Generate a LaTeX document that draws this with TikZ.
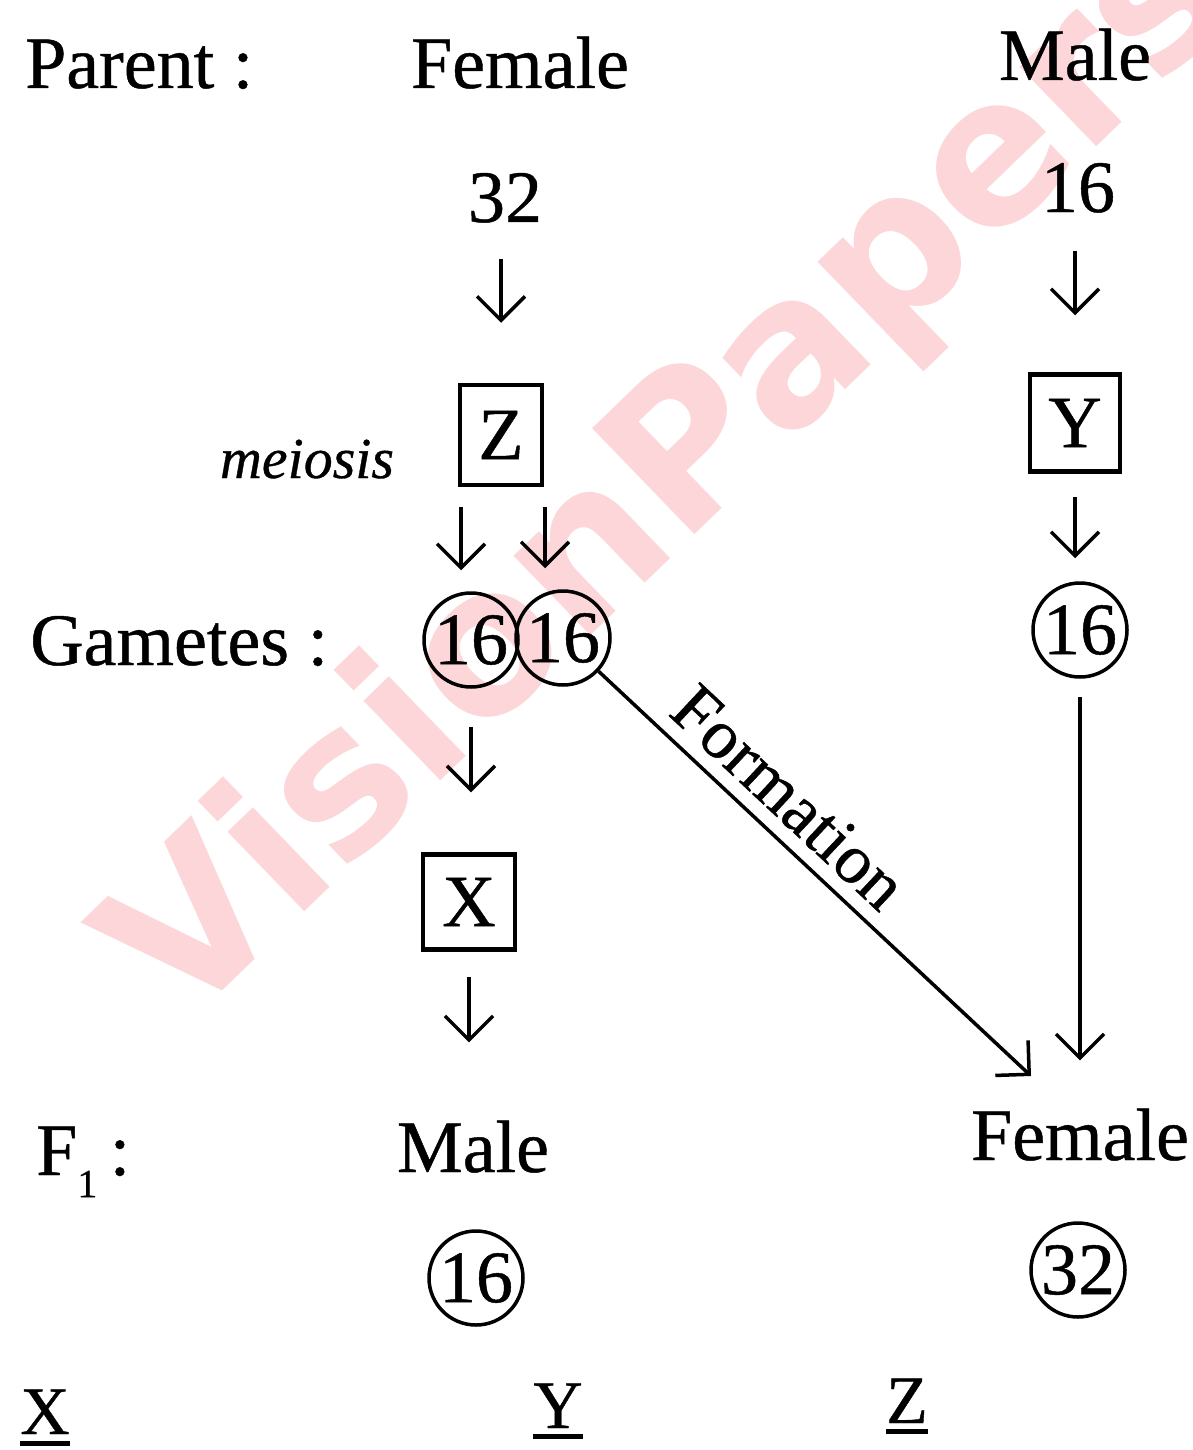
\documentclass[tikz,border=0pt]{standalone}
\usepackage{fontspec}
\setmainfont{Liberation Serif}[FakeBold=0.6]
\newfontfamily\wmfont{DejaVu Sans}
\usetikzlibrary{arrows.meta}
\definecolor{wmpink}{RGB}{252,214,216}
\newcommand\bigtxt{\fontsize{74}{80}\selectfont}
\begin{document}
\begin{tikzpicture}[x=1pt,y=-1pt,
  lbl/.style={inner sep=0pt, font=\bigtxt, anchor=base},
  boxn/.style={draw, line width=4.5pt, inner sep=0pt, font=\bigtxt},
  circn/.style={draw, circle, line width=3.5pt, inner sep=0pt, minimum size=94pt, font=\bigtxt},
  arr/.style={line width=3.5pt, -{Straight Barb[length=24pt,width=48pt]}},
  uline/.style={line width=5pt}
]
\useasboundingbox (0,0) rectangle (1192,1450);
\fill[white] (0,0) rectangle (1192,1450);
% watermark
\node[inner sep=0pt, anchor=base west, rotate=44, text=wmpink,
      font=\wmfont\bfseries\fontsize{202}{202}\selectfont] (wm) at (182,1030) {VisionPapers};

% header row
\node[lbl, anchor=base west] (parent) at (25,88) {Parent :};
\node[lbl] (pfemale) at (520,88) {Female};
\node[lbl] (pmale) at (1075,80) {Male};

% left column
\node[lbl] (n32) at (505,222) {32};
\node[boxn, minimum width=82pt, minimum height=100pt] (zbox) at (501,435) {Z};
\node[lbl, font=\itshape\fontsize{58}{60}\selectfont] (meiosis) at (307,478) {meiosis};
\node[circn] (g1) at (471,640) {16};
\node[circn] (g2) at (563,638) {16};
\node[lbl, anchor=base west] (gam) at (30,665) {Gametes :};
\node[boxn, minimum width=92pt, minimum height=95pt] (xbox) at (469,902) {X};
\node[lbl, anchor=base west] (f1) at (36,1175) {F\raisebox{-0.3em}{\fontsize{40}{40}\selectfont 1}\,:};
\node[lbl] (cmale) at (473,1172) {Male};
\node[circn] (m16) at (476,1278) {16};

% right column
\node[lbl] (n16) at (1078,212) {16};
\node[boxn, minimum width=90pt, minimum height=97pt] (ybox) at (1075,423) {Y};
\node[circn] (y16) at (1080,630) {16};
\node[lbl] (cfemale) at (1080,1160) {Female};
\node[circn] (f32) at (1078,1270) {32};
\coordinate (fend) at (1031,1076);

% arrows, left column
\draw[arr, shorten <=36pt, shorten >=60pt] (n32.south -| zbox.north) -- (zbox.north);
\draw[arr, shorten <=20pt, shorten >=21pt] ([xshift=-10pt]zbox.south -| g1.north) -- ([xshift=-10pt]g1.north);
\draw[arr, shorten <=20pt, shorten >=21pt] ([xshift=-18pt]zbox.south -| g2.north) -- ([xshift=-18pt]g2.north);
\draw[arr, shorten <=38pt, shorten >=60pt] (g1.south) -- (g1.south |- xbox.north);
\draw[arr, shorten <=25pt, shorten >=78pt] (xbox.south) -- (xbox.south |- cmale.north);

% arrows, right column
\draw[arr, shorten <=38pt, shorten >=57pt] (n16.south -| ybox.north) -- (ybox.north);
\draw[arr, shorten <=23pt, shorten >=23pt] (ybox.south) -- (ybox.south |- y16.north);
\draw[arr, shorten <=18pt, shorten >=48pt] (y16.south) -- (y16.south |- cfemale.north);

% formation arrow
\draw[arr] (g2) -- (fend)
  node[pos=0.38, sloped, above=13pt, inner sep=0pt, font=\fontsize{70}{74}\selectfont] (form) {Formation};

% bottom labels
\node[lbl, font=\fontsize{68}{70}\selectfont] (ux) at (45,1434) {X};
\node[lbl, font=\fontsize{68}{70}\selectfont] (uy) at (558,1428) {Y};
\node[lbl, font=\fontsize{68}{70}\selectfont] (uz) at (907,1423) {Z};
\draw[uline] ([yshift=-9pt]ux.base west) -- ([yshift=-9pt]ux.base east);
\draw[uline] ([yshift=-8pt]uy.base west) -- ([yshift=-8pt]uy.base east);
\draw[uline] ([yshift=-8pt]uz.base west) -- ([yshift=-8pt]uz.base east);
\end{tikzpicture}
\end{document}
